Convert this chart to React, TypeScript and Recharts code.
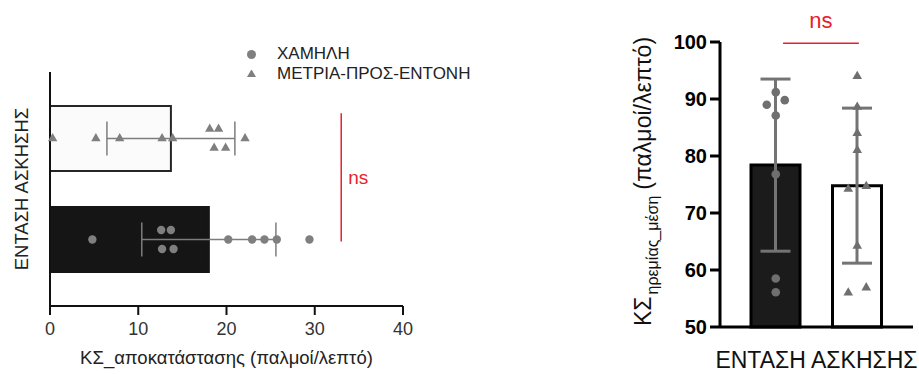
import { ComposedChart, Bar, Cell, ErrorBar, Scatter, XAxis, YAxis, Legend, ReferenceLine, Symbols } from 'recharts'

// left panel: recovery HR by exercise intensity (horizontal bars)
const recoveryGroups = ['ΜΕΤΡΙΑ-ΠΡΟΣ-ΕΝΤΟΝΗ', 'ΧΑΜΗΛΗ']
const recoveryMeans = [13.7, 18.0]
const recoverySds = [7.25, 7.6]
const recoveryLow = [4.8, 12.6, 12.7, 13.7, 14.0, 20.2, 22.9, 24.3, 25.7, 29.4]
const recoveryModHigh = [0.3, 5.2, 7.9, 12.7, 13.9, 18.1, 18.6, 19.1, 19.9, 22.1]
const recoveryTicks = [0, 10, 20, 30, 40]
const legendOrder = ['ΧΑΜΗΛΗ', 'ΜΕΤΡΙΑ-ΠΡΟΣ-ΕΝΤΟΝΗ']

// right panel: mean resting HR
const restGroups = ['ΧΑΜΗΛΗ', 'ΜΕΤΡΙΑ-ΠΡΟΣ-ΕΝΤΟΝΗ']
const restMeans = [78.4, 74.8]
const restSds = [15.1, 13.6]
const restLow = [91.2, 89.0, 89.8, 87.1, 76.8, 58.5, 56.1]
const restModHigh = [94.0, 88.6, 84.0, 81.0, 74.7, 74.2, 64.2, 56.0, 56.9]
const restTicks = [50, 60, 70, 80, 90, 100]

const FONT = '"Liberation Sans", Arial, Helvetica, sans-serif'
const RED = '#e8202a'
const DOT = '#7f7f7f'

// simple swarm: values closer than `gap` get pushed to alternating sides
function swarmLanes(values: number[], gap: number) {
  const order = values.map((_, i) => i).sort((a, b) => values[a] - values[b])
  const lanes = new Array(values.length).fill(0)
  let start = 0
  for (let k = 1; k <= order.length; k++) {
    if (k === order.length || values[order[k]] - values[order[k - 1]] >= gap) {
      if (k - start > 1) {
        for (let j = start; j < k; j++) lanes[order[j]] = (j - start) % 2 === 0 ? -1 : 1
      }
      start = k
    }
  }
  return lanes
}

const toPoints = (values: number[], pos: number, gap: number) => {
  const lanes = swarmLanes(values, gap)
  return values.map((value, i) => ({ value, pos, lane: lanes[i] }))
}

function swarmShape(type: 'circle' | 'triangle', along: 'x' | 'y', step: number, size: number, color: string) {
  return (props: any) => {
    const lane = props.payload?.lane ?? 0
    const cx = along === 'x' ? props.cx + lane * step : props.cx
    const cy = along === 'y' ? props.cy + lane * step : props.cy
    return <Symbols type={type} cx={cx} cy={cy} size={size} fill={color} />
  }
}

const leftBars = recoveryGroups.map((name, i) => ({ name, value: recoveryMeans[i], sd: recoverySds[i] }))
const leftLow = toPoints(recoveryLow, recoveryGroups.indexOf('ΧΑΜΗΛΗ'), 1.1)
const leftMod = toPoints(recoveryModHigh, recoveryGroups.indexOf('ΜΕΤΡΙΑ-ΠΡΟΣ-ΕΝΤΟΝΗ'), 1.1)
const leftFills = ['#fbfbfb', '#151515']
const leftStrokes = ['#262626', '#151515']

const rightBars = restGroups.map((name, i) => ({ name, value: restMeans[i], sd: restSds[i] }))
const rightLow = toPoints(restLow, 0, 1.1)
const rightMod = toPoints(restModHigh, 1, 1.1)
const rightFills = ['#1b1b1b', '#ffffff']

function RestTitle(props: any) {
  const vb = props.viewBox || { x: 0, y: 42, width: 100, height: 285 }
  const x = vb.x + 31
  const y = vb.y + vb.height / 2 - 3
  return (
    <text transform={`translate(${x},${y}) rotate(-90)`} textAnchor="middle" fill="#111" fontFamily={FONT}>
      <tspan fontSize={23}>ΚΣ</tspan>
      <tspan fontSize={16} dx={2} dy={7}>ηρεμίας_μέση</tspan>
      <tspan fontSize={23} dx={6} dy={-7}>(παλμοί/λεπτό)</tspan>
    </text>
  )
}

export default function App() {
  return (
    <div style={{ position: 'absolute', left: 0, top: 0, width: 919, height: 374, background: '#fff', fontFamily: FONT, overflow: 'hidden' }}>
      <div style={{ position: 'absolute', left: 0, top: 0 }}>
        <ComposedChart
          width={480}
          height={374}
          layout="vertical"
          data={leftBars}
          margin={{ top: 72, right: 77, bottom: 8, left: 0 }}
        >
          <XAxis
            type="number"
            dataKey="value"
            domain={[0, 40]}
            ticks={recoveryTicks}
            height={60}
            tickSize={9}
            tickMargin={7}
            axisLine={{ stroke: '#111', strokeWidth: 2 }}
            tickLine={{ stroke: '#111', strokeWidth: 2 }}
            tick={{ fontSize: 18, fill: '#333' }}
            label={{ value: 'ΚΣ_αποκατάστασης (παλμοί/λεπτό)', position: 'insideBottom', offset: 2, fontSize: 18.5, fill: '#222' }}
          />
          <YAxis
            yAxisId="cat"
            type="category"
            dataKey="name"
            width={50}
            padding={{ top: 16, bottom: 16 }}
            tick={false}
            tickSize={10}
            axisLine={{ stroke: '#111', strokeWidth: 2 }}
            tickLine={{ stroke: '#111', strokeWidth: 2 }}
            label={{ value: 'ΕΝΤΑΣΗ ΑΣΚΗΣΗΣ', angle: -90, position: 'insideLeft', offset: 21, fontSize: 18.5, fill: '#222', style: { textAnchor: 'middle' } }}
          />
          <YAxis yAxisId="num" type="number" dataKey="pos" domain={[-0.5, 1.5]} hide padding={{ top: 16, bottom: 16 }} />
          <Bar yAxisId="cat" dataKey="value" barSize={65} legendType="none" isAnimationActive={false}>
            {leftBars.map((d, i) => (
              <Cell key={d.name} fill={leftFills[i]} stroke={leftStrokes[i]} strokeWidth={2} />
            ))}
            <ErrorBar dataKey="sd" direction="x" width={17} stroke="#7d7d7d" strokeWidth={1.5} />
          </Bar>
          <Scatter
            yAxisId="num"
            name="ΧΑΜΗΛΗ"
            data={leftLow}
            fill={DOT}
            legendType="circle"
            shape={swarmShape('circle', 'y', 9.5, 55, DOT)}
            isAnimationActive={false}
          />
          <Scatter
            yAxisId="num"
            name="ΜΕΤΡΙΑ-ΠΡΟΣ-ΕΝΤΟΝΗ"
            data={leftMod}
            fill={DOT}
            legendType="triangle"
            shape={swarmShape('triangle', 'y', 9.5, 38, DOT)}
            isAnimationActive={false}
          />
          <ReferenceLine
            yAxisId="num"
            segment={[{ x: 33, y: -0.25 }, { x: 33, y: 1.02 }]}
            stroke={RED}
            strokeWidth={1.5}
            ifOverflow="visible"
            label={{ value: 'ns', position: 'right', offset: 7, fontSize: 19, fill: RED }}
          />
          <Legend
            layout="vertical"
            align="center"
            verticalAlign="middle"
            iconSize={9}
            itemSorter={(e: any) => legendOrder.indexOf(e.value)}
            wrapperStyle={{ left: 247, top: 44, width: 240, fontSize: 17, lineHeight: '20px' }}
            formatter={(v: any) => <span style={{ color: '#222', paddingLeft: 17 }}>{v}</span>}
          />
        </ComposedChart>
      </div>

      <div style={{ position: 'absolute', left: 620, top: 0 }}>
        <ComposedChart width={299} height={374} data={rightBars} margin={{ top: 42, right: 6, bottom: 0, left: 0 }}>
          <XAxis
            xAxisId="cat"
            type="category"
            dataKey="name"
            padding={{ left: 15, right: 15 }}
            height={47}
            tick={false}
            tickSize={11}
            axisLine={{ stroke: '#000', strokeWidth: 3 }}
            tickLine={{ stroke: '#000', strokeWidth: 3 }}
            label={{ value: 'ΕΝΤΑΣΗ ΑΣΚΗΣΗΣ', position: 'insideBottom', offset: 6, fontSize: 23, fill: '#111' }}
          />
          <XAxis xAxisId="num" type="number" dataKey="pos" domain={[-0.5, 1.5]} padding={{ left: 15, right: 15 }} hide />
          <YAxis
            type="number"
            dataKey="value"
            domain={[50, 100]}
            ticks={restTicks}
            width={100}
            tickSize={10}
            tickMargin={3}
            axisLine={{ stroke: '#000', strokeWidth: 3 }}
            tickLine={{ stroke: '#000', strokeWidth: 3 }}
            tick={{ fontSize: 20, fontWeight: 700, fill: '#000' }}
            label={(p: any) => <RestTitle {...p} />}
          />
          <Bar xAxisId="cat" dataKey="value" barSize={49} isAnimationActive={false}>
            {rightBars.map((d, i) => (
              <Cell key={d.name} fill={rightFills[i]} stroke="#000" strokeWidth={3} />
            ))}
            <ErrorBar dataKey="sd" direction="y" width={15} stroke="#747474" strokeWidth={3} />
          </Bar>
          <Scatter xAxisId="num" data={rightLow} fill={DOT} shape={swarmShape('circle', 'x', 9, 58, '#6f6f6f')} isAnimationActive={false} />
          <Scatter xAxisId="num" data={rightMod} fill={DOT} shape={swarmShape('triangle', 'x', 9, 40, '#6f6f6f')} isAnimationActive={false} />
          <ReferenceLine
            xAxisId="num"
            segment={[{ x: 0.09, y: 99.8 }, { x: 1.02, y: 99.8 }]}
            stroke={RED}
            strokeWidth={1.5}
            ifOverflow="visible"
            label={{ value: 'ns', position: 'top', offset: 15, fontSize: 22, fill: RED }}
          />
        </ComposedChart>
      </div>
    </div>
  )
}
